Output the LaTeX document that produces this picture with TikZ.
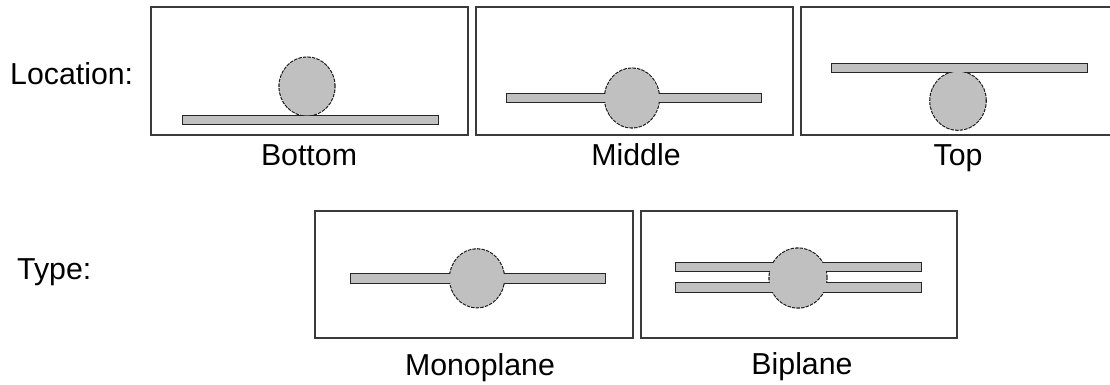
\documentclass[tikz,border=0pt]{standalone}
\usepackage{fontspec}
\setmainfont{Liberation Sans}
\definecolor{skin}{HTML}{C0C0C0}
\definecolor{framegray}{HTML}{3A3A3A}
\begin{document}
\begin{tikzpicture}[x=1pt, y=-1pt,
  frame/.style={draw=framegray, line width=1.7pt},
  wingline/.style={draw=black!85, line width=2.2pt},
  bodyline/.style={draw=black!90, line width=2.2pt, dash pattern=on 3.5pt off 1pt},
  skinfill/.style={fill=skin},
  caption/.style={font=\fontsize{30.3}{36}\selectfont, inner sep=0pt, anchor=base},
  rowlabel/.style={font=\fontsize{30.3}{36}\selectfont, inner sep=0pt, anchor=base west}]
  \useasboundingbox (0,0) rectangle (1110,385);
  \clip (0,0) rectangle (1110,385);
  \fill[white] (0,0) rectangle (1110,385);

  % row labels
  \node[rowlabel] (location) at (10,85) {Location:};
  \node[rowlabel] (type) at (17,279) {Type:};

  % frames
  \draw[frame] (151,7) rectangle (468,135);
  \draw[frame] (476,7) rectangle (793,135);
  \draw[frame] (801,7) rectangle (1118,135);
  \draw[frame] (315,211) rectangle (633,338);
  \draw[frame] (641,211) rectangle (957,338);

  % wing below the fuselage
  \path[wingline] (183,115.7) rectangle (438,124.3);
  \path[bodyline] (307,86.5) ellipse [x radius=27.5pt, y radius=29pt];
  \fill[skinfill] (183,115.7) rectangle (438,124.3);
  \fill[skinfill] (307,86.5) ellipse [x radius=27.5pt, y radius=29pt];

  % wing through the middle
  \path[wingline] (507,94.3) rectangle (761,102.3);
  \path[bodyline] (632,98) ellipse [x radius=27pt, y radius=29.5pt];
  \fill[skinfill] (507,94.3) rectangle (761,102.3);
  \fill[skinfill] (632,98) ellipse [x radius=27pt, y radius=29.5pt];

  % wing on top
  \path[wingline] (832,64) rectangle (1087,72);
  \path[bodyline] (958,100.8) ellipse [x radius=27.7pt, y radius=29pt];
  \fill[skinfill] (832,64) rectangle (1087,72);
  \fill[skinfill] (958,100.8) ellipse [x radius=27.7pt, y radius=29pt];

  % monoplane
  \path[wingline] (351,274) rectangle (605,282.7);
  \path[bodyline] (477,278.3) ellipse [x radius=27pt, y radius=29pt];
  \fill[skinfill] (351,274) rectangle (605,282.7);
  \fill[skinfill] (477,278.3) ellipse [x radius=27pt, y radius=29pt];

  % biplane
  \path[wingline] (676,262.7) rectangle (921,271);
  \path[wingline] (676,283.3) rectangle (921,292);
  \path[bodyline] (798,278) ellipse [x radius=28.5pt, y radius=29.5pt];
  \fill[skinfill] (676,262.7) rectangle (921,271);
  \fill[skinfill] (676,283.3) rectangle (921,292);
  \fill[skinfill] (798,278) ellipse [x radius=28.5pt, y radius=29.5pt];

  % captions
  \node[caption] (bottom) at (309,165) {Bottom};
  \node[caption] (middle) at (636,165) {Middle};
  \node[caption] (top) at (958,165) {Top};
  \node[caption] (mono) at (480,375) {Monoplane};
  \node[caption] (bi) at (802,374) {Biplane};
\end{tikzpicture}
\end{document}
